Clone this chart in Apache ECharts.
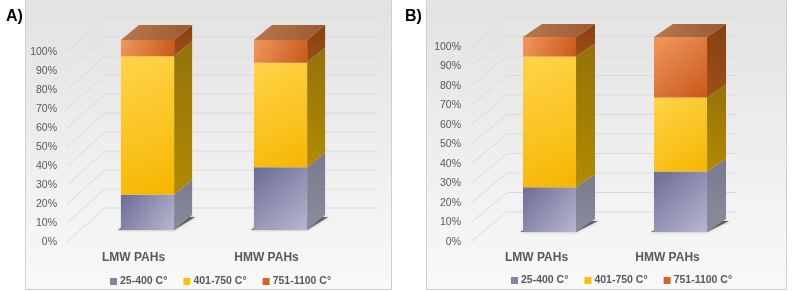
<!DOCTYPE html>
<html>
<head>
<meta charset="utf-8">
<script src="https://cdn.jsdelivr.net/npm/echarts@6/dist/echarts.min.js"></script>
<style>
html,body{margin:0;padding:0;background:#ffffff;}
#chart{width:792px;height:291px;}
</style>
</head>
<body>
<div id="chart"></div>
<script>
// ---- data ----
const categories = ['LMW PAHs', 'HMW PAHs'];
const seriesNames = ['25-400 C°', '401-750 C°', '751-1100 C°'];
const panelTitles = ['A)', 'B)'];
const lowA = [18.5, 33];
const midA = [73, 55];
const highA = [8.5, 12];
const lowB = [23, 31];
const midB = [67, 38];
const highB = [10, 31];
const yTicks = [0, 10, 20, 30, 40, 50, 60, 70, 80, 90, 100];

// ---- layout (not data) ----
const panels = [
  {left: 67, width: 266, top: 52, height: 190, fx: 14, fy: 12, bx: 18, by: 15, wx: 38, wy: 34, wallExt: 44, barRatio: 0.4,
   frame: {x: 25, w: 366}, legendLeft: 105, legendTop: 271, titleLeft: 1, values: [lowA, midA, highA]},
  {left: 471, width: 262, top: 47, height: 195, fx: 13, fy: 10, bx: 19, by: 13, wx: 36, wy: 30, wallExt: 3, barRatio: 0.405,
   frame: {x: 426, w: 360}, legendLeft: 506, legendTop: 270, titleLeft: 400, values: [lowB, midB, highB]}
];

const LG = (x0, y0, x1, y1, c0, c1) => new echarts.graphic.LinearGradient(x0, y0, x1, y1, [{offset: 0, color: c0}, {offset: 1, color: c1}]);
const palette = [
  {legend: '#8383a8', front: ['#6c6c95', '#b7b7d0'], side: ['#7a7a8e', '#8b8b9e'], top: ['#8e8eaa', '#7a7a96']},
  {legend: '#ffc000', front: ['#ffd44a', '#f5b600'], side: ['#94720a', '#b28a00'], top: ['#e0b030', '#c09000']},
  {legend: '#d2662a', front: ['#f0985f', '#c9581a'], side: ['#86400f', '#9f4f1a'], top: ['#b87a50', '#9a5830']}
];

function barRender(panel, segIdx, isTopSeg) {
  return function (params, api) {
    const cat = api.value(0), start = api.value(1), end = api.value(2);
    const p0 = api.coord([cat, start]);
    const p1 = api.coord([cat, end]);
    const bw = api.size([1, 0])[0] * panel.barRatio;
    const xl = p0[0] - bw / 2 + panel.fx, xr = xl + bw;
    const yb = p0[1] - panel.fy, yt = p1[1] - panel.fy;
    const bx = panel.bx, by = panel.by;
    const col = palette[segIdx];
    const children = [];
    if (segIdx === 0) {
      children.push({type: 'polygon', shape: {points: [[xl - 3, yb], [xr, yb], [xr + bx + 3, yb - by + 2], [xl + bx, yb - by + 2]]},
        style: {fill: 'rgba(60,60,60,0.75)', shadowBlur: 3, shadowColor: 'rgba(0,0,0,0.4)'}});
    }
    children.push({type: 'polygon', shape: {points: [[xr, yb], [xr + bx, yb - by], [xr + bx, yt - by], [xr, yt]]},
      style: {fill: LG(0, 0, 0, 1, col.side[0], col.side[1])}});
    children.push({type: 'rect', shape: {x: xl, y: yt, width: bw, height: yb - yt},
      style: {fill: LG(0, 0, 1, 1, col.front[0], col.front[1])}});
    if (isTopSeg) {
      children.push({type: 'polygon', shape: {points: [[xl, yt], [xr, yt], [xr + bx, yt - by], [xl + bx, yt - by]]},
        style: {fill: LG(0, 0, 1, 1, col.top[0], col.top[1])}});
    }
    return {type: 'group', children: children};
  };
}

function wallRender(panel) {
  return function (params, api) {
    const v = api.value(1);
    const p = api.coord([0, v]);
    const x0 = params.coordSys.x;
    const xEnd = params.coordSys.x + params.coordSys.width + panel.wallExt;
    const y = p[1];
    return {type: 'group', children: [
      {type: 'line', shape: {x1: x0, y1: y, x2: x0 + panel.wx, y2: y - panel.wy}, style: {stroke: '#dadada', lineWidth: 1}},
      {type: 'line', shape: {x1: x0 + panel.wx, y1: y - panel.wy, x2: xEnd, y2: y - panel.wy}, style: {stroke: '#dadada', lineWidth: 1}}
    ]};
  };
}

const grids = [], xAxes = [], yAxes = [], series = [], legends = [], titles = [], graphics = [];
panels.forEach((pn, pi) => {
  graphics.push({type: 'rect', z: -10, silent: true, shape: {x: pn.frame.x + 0.5, y: -1, width: pn.frame.w, height: 290.5},
    style: {fill: LG(0, 0, 0, 1, '#e2e2e2', '#f9f9f9'), stroke: '#cfcfcf', lineWidth: 1}});
  grids.push({left: pn.left, top: pn.top, width: pn.width, height: pn.height});
  xAxes.push({type: 'category', gridIndex: pi, data: categories,
    axisLine: {show: false}, axisTick: {show: false}, splitLine: {show: false},
    axisLabel: {color: '#595959', fontSize: 12, fontWeight: 'bold', fontFamily: 'Liberation Sans, Arial, sans-serif', margin: 10}});
  yAxes.push({type: 'value', gridIndex: pi, min: 0, max: 100, interval: 10,
    axisLine: {show: false}, axisTick: {show: false}, splitLine: {show: false},
    axisLabel: {color: '#595959', fontSize: 10.5, fontFamily: 'Liberation Sans, Arial, sans-serif', margin: 10, formatter: '{value}%'}});
  series.push({type: 'custom', name: 'wall' + pi, xAxisIndex: pi, yAxisIndex: pi, silent: true, z: 1,
    data: yTicks.map(v => [0, v]), renderItem: wallRender(pn)});
  const cum = categories.map(() => 0);
  pn.values.forEach((vals, si) => {
    const data = vals.map((v, ci) => { const s = cum[ci]; cum[ci] += v; return [ci, s, s + v]; });
    series.push({type: 'custom', name: seriesNames[si], xAxisIndex: pi, yAxisIndex: pi, z: 2 + si,
      itemStyle: {color: palette[si].legend},
      encode: {x: 0, y: [1, 2]},
      data: data, renderItem: barRender(pn, si, si === pn.values.length - 1)});
  });
  legends.push({data: seriesNames, left: pn.legendLeft, top: pn.legendTop, icon: 'rect', itemWidth: 7, itemHeight: 7, itemGap: 16,
    selectedMode: false,
    textStyle: {color: '#595959', fontSize: 10.5, fontWeight: 'bold', fontFamily: 'Liberation Sans, Arial, sans-serif', padding: [0, 0, 0, -2]}});
  titles.push({text: panelTitles[pi], left: pn.titleLeft, top: 4,
    textStyle: {color: '#000', fontSize: 16, fontWeight: 'bold', fontFamily: 'Liberation Sans, Arial, sans-serif'}});
});

const chart = echarts.init(document.getElementById('chart'), null, {renderer: 'canvas'});
chart.setOption({
  animation: false,
  title: titles,
  grid: grids,
  xAxis: xAxes,
  yAxis: yAxes,
  legend: legends,
  graphic: graphics,
  series: series
});
</script>
</body>
</html>
